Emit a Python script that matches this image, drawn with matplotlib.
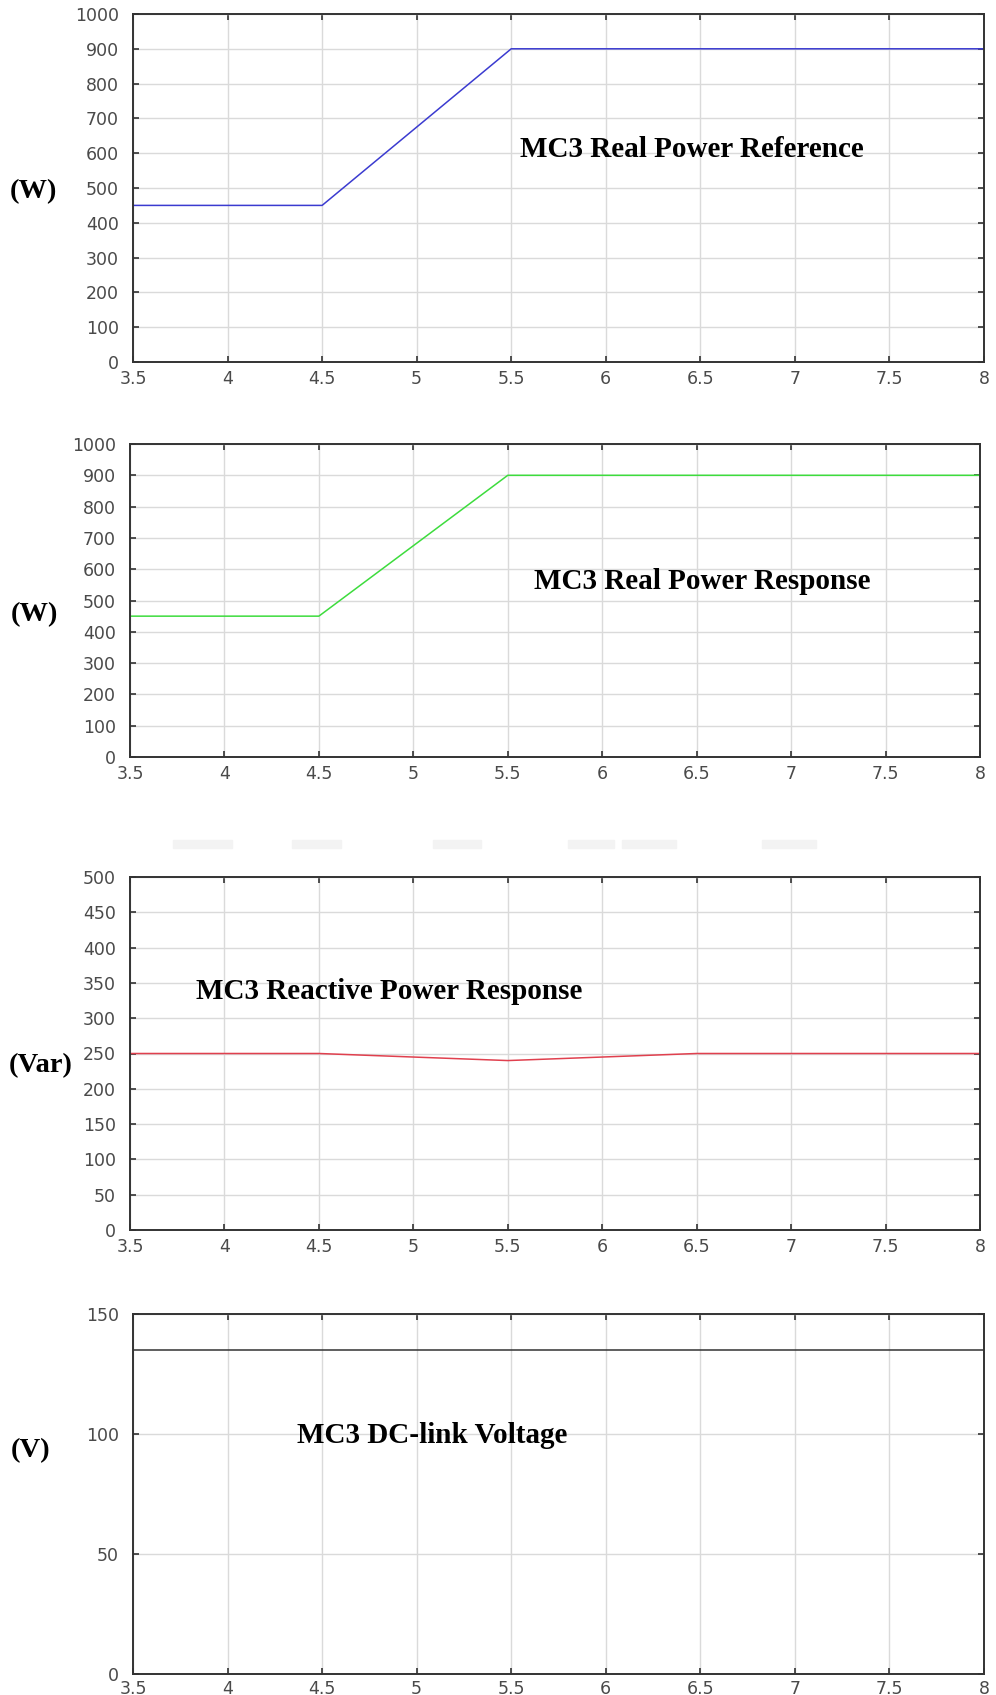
import numpy as np
import matplotlib
matplotlib.use('Agg')
import matplotlib.pyplot as plt
from matplotlib.patches import Rectangle

# data
t_pref = [3.5, 4.5, 5.5, 8.0]
p_ref = [450, 450, 900, 900]

t_presp = [3.5, 4.5, 5.5, 8.0]
p_resp = [450, 450, 900, 900]

t_q = [3.5, 4.5, 5.0, 5.5, 6.0, 6.5, 8.0]
q_resp = [250, 250, 245, 240, 245, 250, 250]

t_vdc = [3.5, 8.0]
v_dc = [135, 135]

xticks = [3.5, 4, 4.5, 5, 5.5, 6, 6.5, 7, 7.5, 8]
xticklabels = ['3.5', '4', '4.5', '5', '5.5', '6', '6.5', '7', '7.5', '8']

W, H = 996, 1695
fig = plt.figure(figsize=(W/100, H/100), dpi=100)

def box(l, r, t, b):
    return [l/W, 1 - b/H, (r - l)/W, (b - t)/H]

tick_font = dict(family='DejaVu Sans', size=12.5, color='#4a4a4a')
title_font = dict(family='Liberation Serif', weight='bold', size=21, color='black')
unit_font = dict(family='Liberation Serif', weight='bold', size=20.5, color='black')

def style(ax, ymax, ystep):
    ax.set_xlim(3.5, 8)
    ax.set_ylim(0, ymax)
    ax.set_xticks(xticks)
    ax.set_xticklabels(xticklabels, fontdict=tick_font)
    yt = np.arange(0, ymax + 1, ystep)
    ax.set_yticks(yt)
    ax.set_yticklabels([str(int(v)) for v in yt], fontdict=tick_font)
    ax.grid(True, color='#dadada', linewidth=1.0)
    ax.set_axisbelow(True)
    ax.tick_params(direction='in', top=True, right=True, length=4, width=1.2,
                   color='#333333')
    ax.tick_params(axis='x', pad=6)
    ax.tick_params(axis='y', pad=10)
    for s in ax.spines.values():
        s.set_color('#333333')
        s.set_linewidth(1.4)

ax1 = fig.add_axes(box(133, 984, 14, 362))
ax1.plot(t_pref, p_ref, color='#3b3bd0', linewidth=1.1)
style(ax1, 1000, 100)
ax1.text(6.456, 610, 'MC3 Real Power Reference', ha='center', va='center', **title_font)
ax1.text(-0.1175, 0.49, '(W)', transform=ax1.transAxes, ha='center', va='center', **unit_font)

ax2 = fig.add_axes(box(130, 980, 444, 757))
ax2.plot(t_presp, p_resp, color='#3ddc3d', linewidth=1.1)
style(ax2, 1000, 100)
ax2.text(6.53, 560, 'MC3 Real Power Response', ha='center', va='center', **title_font)
ax2.text(-0.112, 0.455, '(W)', transform=ax2.transAxes, ha='center', va='center', **unit_font)

ax3 = fig.add_axes(box(130, 980, 877, 1230))
ax3.plot(t_q, q_resp, color='#e0404e', linewidth=1.1)
style(ax3, 500, 50)
ax3.text(4.87, 338, 'MC3 Reactive Power Response', ha='center', va='center', **title_font)
ax3.text(-0.105, 0.465, '(Var)', transform=ax3.transAxes, ha='center', va='center', **unit_font)

ax4 = fig.add_axes(box(133, 984, 1314, 1674))
ax4.plot(t_vdc, v_dc, color='#333333', linewidth=1.1)
style(ax4, 150, 50)
ax4.tick_params(axis='x', pad=4)
ax4.text(5.08, 99.5, 'MC3 DC-link Voltage', ha='center', va='center', **title_font)
ax4.text(-0.12, 0.62, '(V)', transform=ax4.transAxes, ha='center', va='center', **unit_font)

# faint grey smudges between the 2nd and 3rd panel
for x0, x1 in [(173, 232), (292, 341), (433, 481), (568, 614), (622, 676), (762, 816)]:
    fig.patches.append(Rectangle((x0/W, 1 - 848/H), (x1 - x0)/W, 8/H,
                                 transform=fig.transFigure, color='#f3f3f3', zorder=0))

fig.savefig('out.png', dpi=100)
